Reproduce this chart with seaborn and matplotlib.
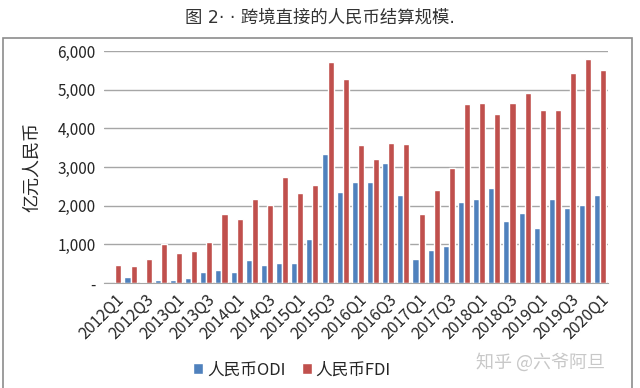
import pandas as pd
import numpy as np
import matplotlib.pyplot as plt
import seaborn as sns
from matplotlib.patches import Rectangle

# ==== データ ====
quarters = [f"{y}Q{q}" for y in range(2012, 2020) for q in range(1, 5)] + ["2020Q1"]
odi = [10, 155, 35, 86, 86, 140, 295, 345, 285, 590,
       466, 527, 527, 1131, 3325, 2357, 2608, 2608, 3109, 2288,
       630, 864, 950, 2090, 2176, 2444, 1606, 1822, 1425, 2185,
       1952, 2021, 2288]
fdi = [475, 450, 630, 1010, 770, 840, 1070, 1790, 1655, 2175,
       2030, 2746, 2340, 2522, 5725, 5268, 3558, 3195, 3627, 3584,
       1779, 2409, 2979, 4637, 4663, 4378, 4646, 4905, 4473, 4482,
       5440, 5794, 5501]
series_names = ["人民币ODI", "人民币FDI"]
colors = ["#4F81BD", "#C0504D"]

df = pd.DataFrame({"quarter": quarters * 2,
                   "value": odi + fdi,
                   "series": [series_names[0]] * len(quarters) + [series_names[1]] * len(quarters)})

sns.set_style("white")
plt.rcParams['font.family'] = ['Noto Sans CJK SC', 'DejaVu Sans']

fig = plt.figure(figsize=(6.4, 3.88), dpi=100)
ax = fig.add_axes([104 / 640, 1 - 283 / 388, 504 / 640, 232 / 388])

sns.barplot(data=df, x="quarter", y="value", hue="series", order=quarters,
            hue_order=series_names, palette=colors, width=0.8, saturation=1,
            ax=ax, legend=True)

ax.set_ylim(0, 6000)
ax.set_xlim(-0.75, len(quarters) - 0.5)
ax.set_yticks(range(0, 6001, 1000))
ax.set_yticklabels(["-"] + [f"{v:,}" for v in range(1000, 6001, 1000)], fontsize=11)
ax.yaxis.grid(True, color="#A6A6A6", linewidth=1)
ax.set_axisbelow(True)
ticks = list(range(0, len(quarters), 2))
ax.set_xticks(ticks)
ax.set_xticklabels([quarters[i] for i in ticks], rotation=45, ha="right",
                   rotation_mode="anchor", fontsize=11.5)
ax.tick_params(axis="both", length=0, pad=6)
ax.set_xlabel("")
ax.set_ylabel("亿元人民币", fontsize=13, labelpad=12)
for s in ["top", "right", "left"]:
    ax.spines[s].set_visible(False)
ax.spines["bottom"].set_color("#A6A6A6")

handles, labels = ax.get_legend_handles_labels()
ax.legend(handles, labels, loc="center", bbox_to_anchor=(292 / 640, 1 - 370 / 388),
          bbox_transform=fig.transFigure, ncol=2, frameon=False, fontsize=12,
          handlelength=0.6, handleheight=0.6, handletextpad=0.2, columnspacing=1.0)

# 外枠とタイトル
fig.patches.append(Rectangle((3 / 640, -0.01), 629 / 640, 1 - 38 / 388 + 0.01,
                             transform=fig.transFigure, fill=False,
                             edgecolor="#8C8C8C", linewidth=1.2))
fig.text(320 / 640, 1 - 18 / 388, "图 2· · 跨境直接的人民币结算规模.", ha="center",
         va="center", fontsize=12.5, color="#333333",
         family=['DejaVu Sans', 'Noto Sans CJK SC'])
fig.text(540 / 640, 1 - 362 / 388, "知乎 @六爷阿旦", ha="center", va="center",
         fontsize=13, color="#C8C8C8")

fig.savefig("out.png", dpi=100)
